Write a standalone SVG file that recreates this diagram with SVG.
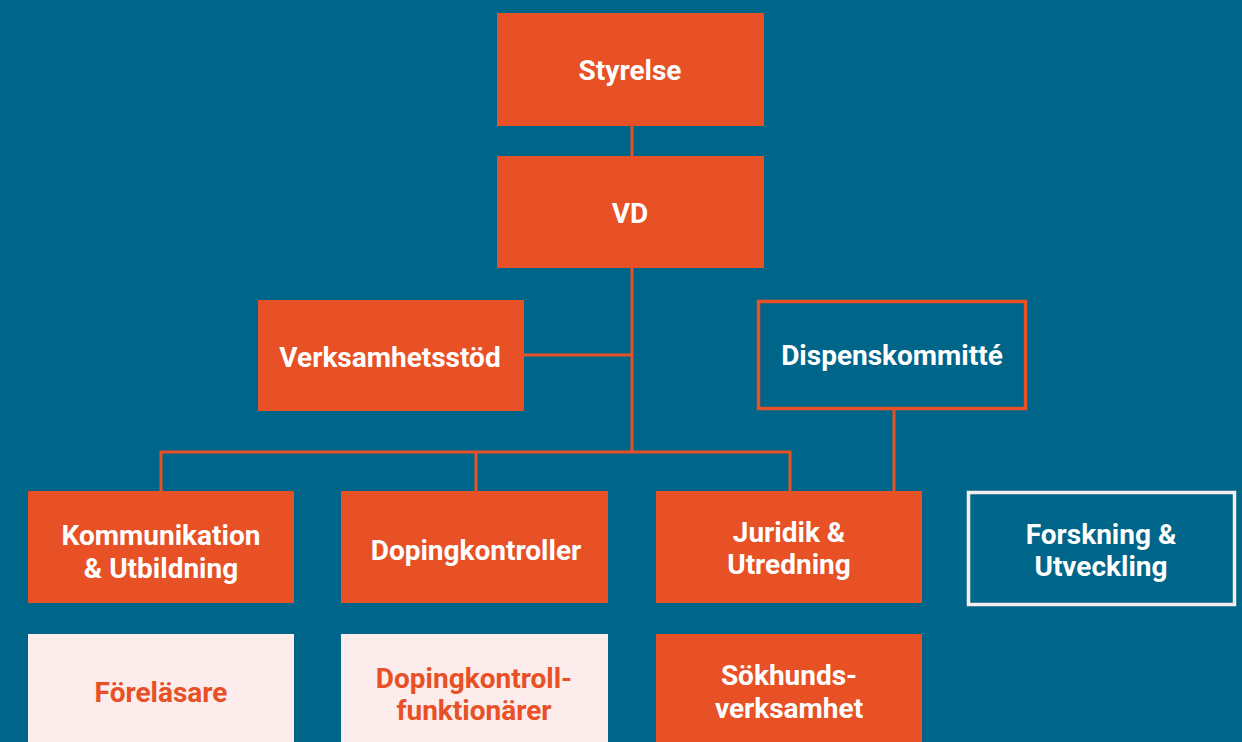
<svg xmlns="http://www.w3.org/2000/svg" width="1242" height="742" viewBox="0 0 1242 742">
<style>
.bg{fill:#006689}
.o{fill:#E85026}
.p{fill:#FCECEC}
.ob{fill:none;stroke:#E85026;stroke-width:3.5}
.wb{fill:none;stroke:#F6EEEE;stroke-width:3.5}
text{font-family:Roboto,"Liberation Sans",sans-serif;font-weight:bold;font-size:28px;text-anchor:middle;dominant-baseline:central}
.w{fill:#FFFFFF}
.t{fill:#E85026}
.c{fill:none;stroke:#E85026;stroke-width:3}
</style>
<rect class="bg" x="0" y="0" width="1242" height="742"/>
<g id="connectors">
<line class="c" x1="632" y1="126" x2="632" y2="156"/>
<line class="c" x1="632" y1="268" x2="632" y2="453"/>
<line class="c" x1="524" y1="355" x2="632" y2="355"/>
<polyline class="c" points="161,491 161,452 790,452 790,491"/>
<line class="c" x1="476" y1="452" x2="476" y2="491"/>
<line class="c" x1="894" y1="410" x2="894" y2="491"/>
</g>
<g id="styrelse"><rect class="o" x="497" y="13" width="267" height="113"/><text class="w" x="630" y="70">Styrelse</text></g>
<g id="vd"><rect class="o" x="497" y="156" width="267" height="112"/><text class="w" x="630" y="213">VD</text></g>
<g id="verksamhetsstod"><rect class="o" x="258" y="300" width="266" height="111"/><text class="w" x="390" y="357">Verksamhetsstöd</text></g>
<g id="dispenskommitte"><rect class="ob" x="758.500" y="301.500" width="267" height="107"/><text class="w" x="892" y="355">Dispenskommitté</text></g>
<g id="kommunikation"><rect class="o" x="28" y="491" width="266" height="112"/><text class="w" x="161" y="535">Kommunikation</text><text class="w" x="161" y="568">&amp; Utbildning</text></g>
<g id="dopingkontroller"><rect class="o" x="341" y="491" width="267" height="112"/><text class="w" x="476" y="550">Dopingkontroller</text></g>
<g id="juridik"><rect class="o" x="656" y="491" width="266" height="112"/><text class="w" x="789" y="532">Juridik &amp;</text><text class="w" x="789" y="564">Utredning</text></g>
<g id="forskning"><rect class="wb" x="968.500" y="492.500" width="266" height="112"/><text class="w" x="1101" y="534">Forskning &amp;</text><text class="w" x="1101" y="566">Utveckling</text></g>
<g id="forelasare"><rect class="p" x="28" y="634" width="266" height="120"/><text class="t" x="161" y="692">Föreläsare</text></g>
<g id="dopingkontrollfunktionarer"><rect class="p" x="341" y="634" width="267" height="120"/><text class="t" x="474" y="678">Dopingkontroll-</text><text class="t" x="474" y="710">funktionärer</text></g>
<g id="sokhunds"><rect class="o" x="656" y="634" width="266" height="120"/><text class="w" x="789" y="675">Sökhunds-</text><text class="w" x="789" y="708">verksamhet</text></g>
</svg>
